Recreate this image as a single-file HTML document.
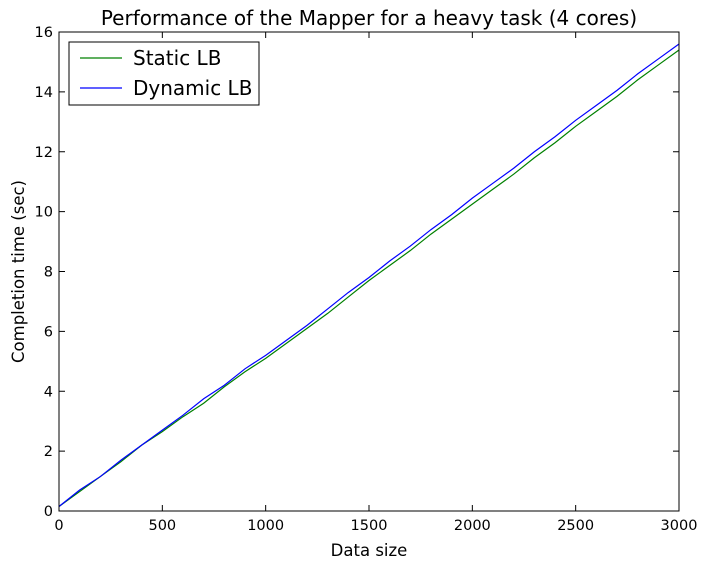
<!DOCTYPE html>
<html><head><meta charset="utf-8"><style>
body{margin:0;background:#fff;}
svg text{font-family:"DejaVu Sans","Liberation Sans",sans-serif;fill:#000;}
</style></head><body>
<svg id="c" width="708" height="570" xmlns="http://www.w3.org/2000/svg"></svg>
<script>
const xValues=[0,100,200,300,400,500,600,700,800,900,1000,1100,1200,1300,1400,1500,1600,1700,1800,1900,2000,2100,2200,2300,2400,2500,2600,2700,2800,2900,3000];
const staticLB=[0.15,0.65,1.15,1.65,2.2,2.65,3.15,3.6,4.15,4.65,5.1,5.6,6.1,6.6,7.15,7.7,8.2,8.7,9.25,9.75,10.25,10.75,11.25,11.8,12.3,12.85,13.35,13.85,14.4,14.9,15.4];
const dynamicLB=[0.15,0.7,1.15,1.7,2.2,2.7,3.2,3.75,4.2,4.75,5.2,5.7,6.2,6.75,7.3,7.8,8.35,8.85,9.4,9.9,10.45,10.95,11.45,12.0,12.5,13.05,13.55,14.05,14.6,15.1,15.6];
const xTicks=[0,500,1000,1500,2000,2500,3000];
const yTicks=[0,2,4,6,8,10,12,14,16];
const L=59,R=679,T=32,B=511;
const sx=v=>L+(v-0)/3000*(R-L);
const sy=v=>B-(v-0)/16*(B-T);
const svg=document.getElementById('c');
const NS='http://www.w3.org/2000/svg';
function mk(tag,attrs,parent){const e=document.createElementNS(NS,tag);for(const k in attrs)e.setAttribute(k,attrs[k]);(parent||svg).appendChild(e);return e;}
function line(data,color,name){
  const d=data.map((v,i)=>(i?'L':'M')+sx(xValues[i]).toFixed(2)+','+sy(v).toFixed(2)).join('');
  const p=mk('path',{d:d,fill:'none',stroke:color,'stroke-width':1.2});
  
  
}
line(staticLB,'#008000','static-lb-line');
line(dynamicLB,'#0000ff','dynamic-lb-line');
const frame=mk('rect',{x:L,y:T,width:R-L,height:B-T,fill:'none',stroke:'#000','stroke-width':1});


xTicks.forEach(v=>{
  const x=sx(v);
  mk('line',{x1:x,x2:x,y1:B,y2:B-6,stroke:'#000'});
  mk('line',{x1:x,x2:x,y1:T,y2:T+6,stroke:'#000'});
  const t=mk('text',{x:x,y:B+19,'text-anchor':'middle','font-size':14.5});
  t.textContent=v;
  
  
});
yTicks.forEach(v=>{
  const y=sy(v);
  mk('line',{x1:L,x2:L+6,y1:y,y2:y,stroke:'#000'});
  mk('line',{x1:R,x2:R-6,y1:y,y2:y,stroke:'#000'});
  const t=mk('text',{x:L-6,y:y+5,'text-anchor':'end','font-size':14.5});
  t.textContent=v;
  
  
});
const title=mk('text',{x:(L+R)/2,y:25,'text-anchor':'middle','font-size':20});
title.textContent='Performance of the Mapper for a heavy task (4 cores)';


const xt=mk('text',{x:(L+R)/2,y:556,'text-anchor':'middle','font-size':16.5});
xt.textContent='Data size';


const yt=mk('text',{x:0,y:0,'text-anchor':'middle','font-size':16.5,transform:'translate(24,'+((T+B)/2)+') rotate(-90)'});
yt.textContent='Completion time (sec)';


const lg=mk('g',{});


mk('rect',{x:69,y:42,width:190,height:63,fill:'#fff',stroke:'#000'},lg);
mk('line',{x1:80,x2:122,y1:58,y2:58,stroke:'#008000','stroke-width':1.2},lg);
mk('line',{x1:80,x2:122,y1:88,y2:88,stroke:'#0000ff','stroke-width':1.2},lg);
const l1=mk('text',{x:133,y:65,'font-size':20},lg);l1.textContent='Static LB';


const l2=mk('text',{x:133,y:95,'font-size':20},lg);l2.textContent='Dynamic LB';


</script>
</body></html>
